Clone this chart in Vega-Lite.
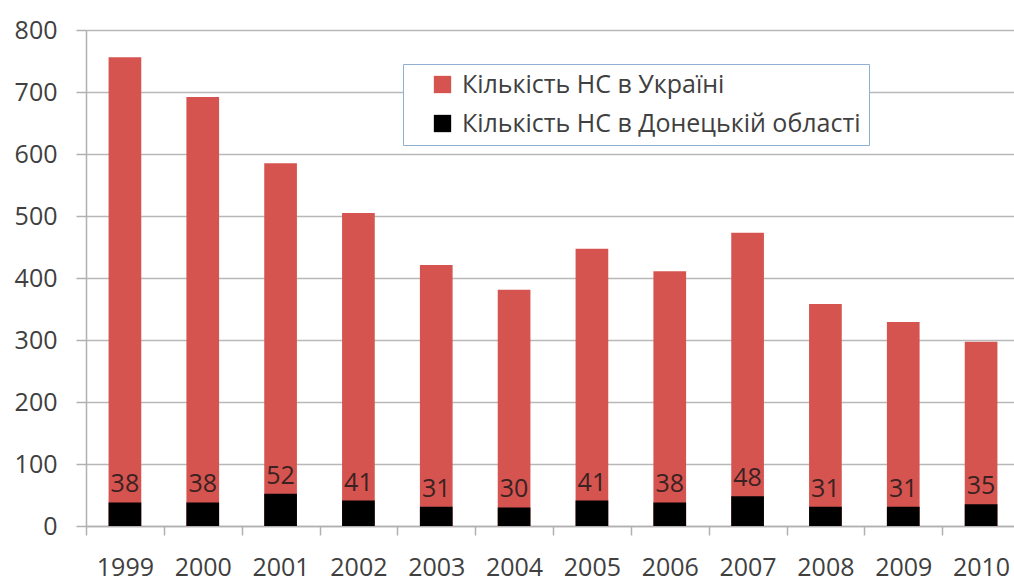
{
  "$schema": "https://vega.github.io/schema/vega-lite/v6.json",
  "width": 934,
  "height": 496,
  "autosize": {"type": "none"},
  "padding": {"left": 86, "top": 30, "right": 0, "bottom": 58},
  "background": "#ffffff",
  "config": {
    "view": {"stroke": null},
    "font": "Open Sans"
  },
  "data": {
    "values": [
      {"year": "1999", "ukraine": 756, "donetsk": 38},
      {"year": "2000", "ukraine": 692, "donetsk": 38},
      {"year": "2001", "ukraine": 585, "donetsk": 52},
      {"year": "2002", "ukraine": 505, "donetsk": 41},
      {"year": "2003", "ukraine": 421, "donetsk": 31},
      {"year": "2004", "ukraine": 381, "donetsk": 30},
      {"year": "2005", "ukraine": 447, "donetsk": 41},
      {"year": "2006", "ukraine": 411, "donetsk": 38},
      {"year": "2007", "ukraine": 473, "donetsk": 48},
      {"year": "2008", "ukraine": 358, "donetsk": 31},
      {"year": "2009", "ukraine": 329, "donetsk": 31},
      {"year": "2010", "ukraine": 297, "donetsk": 35}
    ]
  },
  "encoding": {
    "x": {
      "field": "year",
      "type": "nominal",
      "scale": {"paddingInner": 0, "paddingOuter": 0},
      "axis": {
        "title": null,
        "labelAngle": 0,
        "labelFont": "Open Sans",
        "labelFontSize": 25,
        "labelColor": "#404040",
        "labelPadding": 20,
        "tickBand": "extent",
        "tickSize": 9,
        "tickColor": "#b0b0b0",
        "tickWidth": 1.5,
        "domainColor": "#b0b0b0",
        "domainWidth": 1.5,
        "grid": false
      }
    }
  },
  "layer": [
    {
      "mark": {"type": "bar", "width": {"band": 0.42}},
      "encoding": {
        "y": {
          "field": "ukraine",
          "type": "quantitative",
          "scale": {"domain": [0, 800], "nice": false},
          "axis": {
            "title": null,
            "values": [0, 100, 200, 300, 400, 500, 600, 700, 800],
            "labelFont": "Open Sans",
            "labelFontSize": 25,
            "labelColor": "#404040",
            "labelPadding": 19,
            "tickSize": 10,
            "tickColor": "#b0b0b0",
            "tickWidth": 1.5,
            "domainColor": "#b0b0b0",
            "domainWidth": 1.5,
            "grid": true,
            "gridColor": "#b8b8b8",
            "gridWidth": 1.5
          }
        },
        "color": {
          "datum": "Кількість НС в Україні",
          "type": "nominal",
          "scale": {
            "domain": ["Кількість НС в Україні", "Кількість НС в Донецькій області"],
            "range": ["#d6544f", "#000000"]
          },
          "legend": {
            "title": null,
            "orient": "none",
            "legendX": 317,
            "legendY": 34,
            "fillColor": "#ffffff",
            "strokeColor": "#8fb0d0",
            "padding": 8,
            "symbolOffset": 19,
            "symbolType": "square",
            "symbolSize": 300,
            "symbolStrokeWidth": 0,
            "labelFont": "Open Sans",
            "labelFontSize": 25,
            "labelColor": "#404040",
            "labelOffset": 7,
            "labelLimit": 600,
            "rowPadding": 13
          }
        }
      }
    },
    {
      "mark": {"type": "bar", "width": {"band": 0.42}},
      "encoding": {
        "y": {"field": "donetsk", "type": "quantitative"},
        "color": {"datum": "Кількість НС в Донецькій області", "type": "nominal"}
      }
    },
    {
      "mark": {
        "type": "text",
        "baseline": "alphabetic",
        "dy": -10,
        "font": "Open Sans",
        "fontSize": 25,
        "color": "#3a2222"
      },
      "encoding": {
        "y": {"field": "donetsk", "type": "quantitative"},
        "text": {"field": "donetsk", "type": "quantitative"}
      }
    }
  ]
}
